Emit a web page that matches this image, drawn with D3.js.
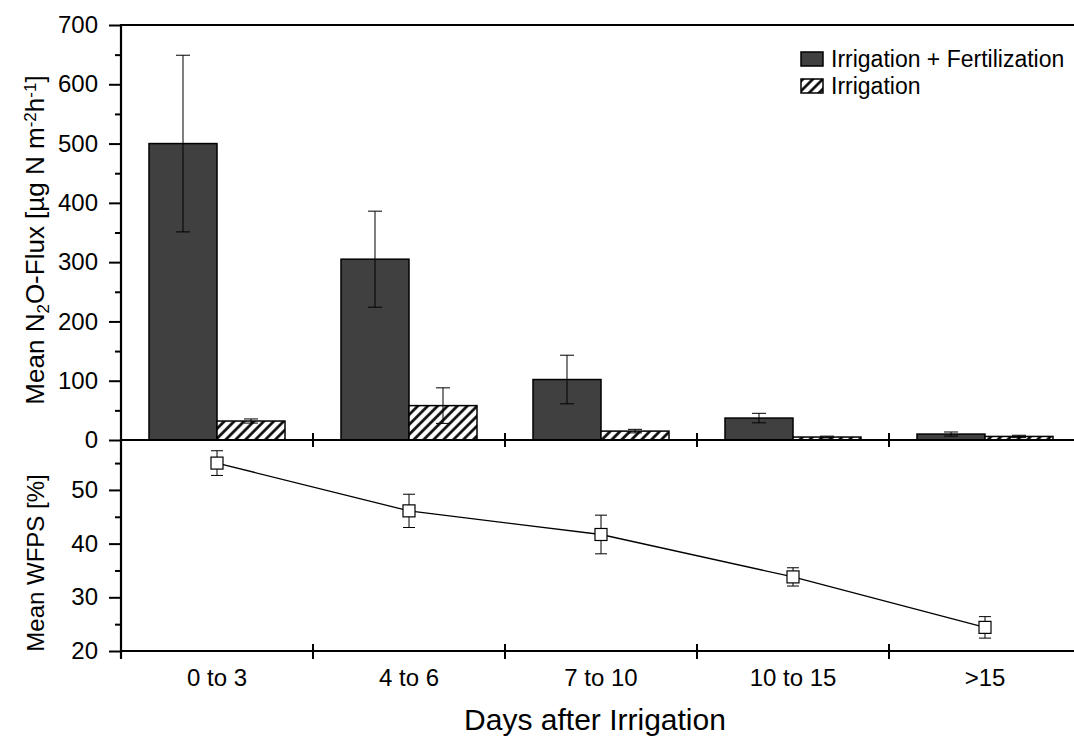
<!DOCTYPE html>
<html>
<head>
<meta charset="utf-8">
<script src="https://cdn.jsdelivr.net/npm/d3@7"></script>
<style>
  html, body { margin: 0; padding: 0; background: #fff; }
  svg { display: block; font-family: "Liberation Sans", Arial, sans-serif; }
</style>
</head>
<body>
<svg id="chart" width="1074" height="739"></svg>
<script>
// Categories (days after irrigation)
const categories = ["0 to 3", "4 to 6", "7 to 10", "10 to 15", ">15"];
const seriesNames = ["Irrigation + Fertilization", "Irrigation"];

// Mean N2O flux [µg N m-2 h-1] and error
const fluxFert = [500, 305, 102, 37, 10];
const fluxFertErr = [149, 81, 41, 8, 3.5];
const fluxIrr = [32, 58, 15, 5, 6];
const fluxIrrErr = [3.5, 30, 3, 1.5, 2];

// Mean WFPS [%] and error
const wfps = [55.0, 46.1, 41.7, 33.8, 24.4];
const wfpsErr = [2.3, 3.1, 3.6, 1.7, 2.0];

const fluxTicks = [0, 100, 200, 300, 400, 500, 600, 700];
const fluxMinor = [50, 150, 250, 350, 450, 550, 650];
const wfpsTicks = [20, 30, 40, 50];
const wfpsMinor = [25, 35, 45, 55];

const svg = d3.select("#chart");

const left = 121, right = 1081;
const topY = 25, midY = 440, botY = 651;
const FONT = "'Liberation Sans', Arial, sans-serif";

const x = d3.scaleBand().domain(categories).range([left, right]).padding(0);
const xs = d3.scaleBand().domain(seriesNames).range([28, x.bandwidth() - 28]).padding(0);
const yTop = d3.scaleLinear().domain([0, 700]).range([midY, topY]);
const yBot = d3.scaleLinear().domain([20, 59.3]).range([botY, midY]);

// hatch pattern for the irrigation-only series
const defs = svg.append("defs");
const pat = defs.append("pattern")
  .attr("id", "hatch")
  .attr("patternUnits", "userSpaceOnUse")
  .attr("width", 7).attr("height", 7)
  .attr("patternTransform", "rotate(45)");
pat.append("rect").attr("width", 7).attr("height", 7).attr("fill", "#fff");
pat.append("line").attr("x1", 1.5).attr("y1", 0).attr("x2", 1.5).attr("y2", 7)
  .attr("stroke", "#000").attr("stroke-width", 2.6);

const fills = { "Irrigation + Fertilization": "#404040", "Irrigation": "url(#hatch)" };

// ---- bars ----
const barData = [];
categories.forEach((c, i) => {
  barData.push({ cat: c, s: seriesNames[0], v: fluxFert[i], e: fluxFertErr[i] });
  barData.push({ cat: c, s: seriesNames[1], v: fluxIrr[i], e: fluxIrrErr[i] });
});

svg.append("g").selectAll("rect").data(barData).join("rect")
  .attr("x", d => x(d.cat) + xs(d.s))
  .attr("y", d => yTop(d.v))
  .attr("width", xs.bandwidth())
  .attr("height", d => yTop(0) - yTop(d.v))
  .attr("fill", d => fills[d.s])
  .attr("stroke", "#000")
  .attr("stroke-width", 1.5);

// error bars for flux
const eb = svg.append("g").attr("stroke", "#000").attr("stroke-width", 1);
barData.forEach(d => {
  const cx = x(d.cat) + xs(d.s) + xs.bandwidth() / 2;
  const y1 = yTop(d.v + d.e), y2 = yTop(Math.max(0, d.v - d.e));
  eb.append("line").attr("x1", cx).attr("x2", cx).attr("y1", y1).attr("y2", y2);
  eb.append("line").attr("x1", cx - 7).attr("x2", cx + 7).attr("y1", y1).attr("y2", y1);
  eb.append("line").attr("x1", cx - 7).attr("x2", cx + 7).attr("y1", y2).attr("y2", y2);
});

// ---- WFPS line ----
const cxOf = c => x(c) + x.bandwidth() / 2;
const line = d3.line().x((d, i) => cxOf(categories[i])).y(d => yBot(d));
svg.append("path").datum(wfps).attr("d", line)
  .attr("fill", "none").attr("stroke", "#000").attr("stroke-width", 1.3);

const eb2 = svg.append("g").attr("stroke", "#000").attr("stroke-width", 1);
wfps.forEach((v, i) => {
  const cx = cxOf(categories[i]);
  const y1 = yBot(v + wfpsErr[i]), y2 = yBot(v - wfpsErr[i]);
  eb2.append("line").attr("x1", cx).attr("x2", cx).attr("y1", y1).attr("y2", y2);
  eb2.append("line").attr("x1", cx - 6).attr("x2", cx + 6).attr("y1", y1).attr("y2", y1);
  eb2.append("line").attr("x1", cx - 6).attr("x2", cx + 6).attr("y1", y2).attr("y2", y2);
});
svg.append("g").selectAll("rect").data(wfps).join("rect")
  .attr("x", (d, i) => cxOf(categories[i]) - 6)
  .attr("y", d => yBot(d) - 6)
  .attr("width", 12).attr("height", 12)
  .attr("fill", "#fff").attr("stroke", "#000").attr("stroke-width", 1.2);

// ---- axes ----
function styleAxis(g) {
  g.selectAll("path.domain").remove();
  g.selectAll(".tick line").attr("stroke", "#000").attr("stroke-width", 2);
  g.selectAll(".tick text").attr("fill", "#000")
    .style("font-size", "24px").style("font-family", FONT);
}

// top flux axis
svg.append("g").attr("transform", `translate(${left},0)`)
  .call(d3.axisLeft(yTop).tickValues(fluxTicks).tickSize(12).tickPadding(11))
  .call(styleAxis);
svg.append("g").attr("transform", `translate(${left},0)`)
  .call(d3.axisLeft(yTop).tickValues(fluxMinor).tickSize(6).tickFormat(""))
  .call(styleAxis);

// bottom WFPS axis
svg.append("g").attr("transform", `translate(${left},0)`)
  .call(d3.axisLeft(yBot).tickValues(wfpsTicks).tickSize(12).tickPadding(11))
  .call(styleAxis);
svg.append("g").attr("transform", `translate(${left},0)`)
  .call(d3.axisLeft(yBot).tickValues(wfpsMinor).tickSize(6).tickFormat(""))
  .call(styleAxis);

// frame lines
const frame = svg.append("g").attr("stroke", "#000").attr("stroke-width", 2.2);
frame.append("line").attr("x1", left).attr("x2", 1074).attr("y1", topY).attr("y2", topY);
frame.append("line").attr("x1", left).attr("x2", 1074).attr("y1", midY).attr("y2", midY);
frame.append("line").attr("x1", left).attr("x2", 1074).attr("y1", botY).attr("y2", botY);
frame.append("line").attr("x1", left).attr("x2", left).attr("y1", topY - 1).attr("y2", botY + 7);

// category boundary ticks on the middle and bottom lines
const bounds = categories.map(c => x(c));
svg.append("g").selectAll("line").data(bounds.slice(1)).join("line")
  .attr("x1", d => d).attr("x2", d => d)
  .attr("y1", midY - 7).attr("y2", midY + 7)
  .attr("stroke", "#000").attr("stroke-width", 2);
svg.append("g").selectAll("line").data(bounds).join("line")
  .attr("x1", d => d).attr("x2", d => d)
  .attr("y1", botY - 7).attr("y2", botY + 8)
  .attr("stroke", "#000").attr("stroke-width", 2);

// category labels
svg.append("g").selectAll("text").data(categories).join("text")
  .attr("x", d => cxOf(d)).attr("y", 686)
  .attr("text-anchor", "middle")
  .style("font-size", "24px")
  .text(d => d);

// x title
svg.append("text").attr("x", 595).attr("y", 730)
  .attr("text-anchor", "middle")
  .style("font-size", "30px")
  .text("Days after Irrigation");

// y titles
const t1 = svg.append("text")
  .attr("transform", "translate(44,240) rotate(-90)")
  .attr("text-anchor", "middle")
  .style("font-size", "26px");
t1.append("tspan").text("Mean N");
t1.append("tspan").attr("baseline-shift", "-30%").style("font-size", "17px").text("2");
t1.append("tspan").text("O-Flux [µg N m");
t1.append("tspan").attr("baseline-shift", "50%").style("font-size", "17px").text("-2");
t1.append("tspan").text("h");
t1.append("tspan").attr("baseline-shift", "50%").style("font-size", "17px").text("-1");
t1.append("tspan").text("]");

svg.append("text")
  .attr("transform", "translate(44,563) rotate(-90)")
  .attr("text-anchor", "middle")
  .style("font-size", "24px")
  .text("Mean WFPS [%]");

// legend
const legend = svg.append("g").attr("transform", "translate(801,52)");
seriesNames.forEach((s, i) => {
  const g = legend.append("g").attr("transform", `translate(0,${i * 27})`);
  g.append("rect").attr("x", 0).attr("y", 0).attr("width", 22).attr("height", 14)
    .attr("fill", fills[s]).attr("stroke", "#000").attr("stroke-width", 1.5);
  g.append("text").attr("x", 30).attr("y", 15).style("font-size", "23px").text(s);
});
</script>
</body>
</html>
